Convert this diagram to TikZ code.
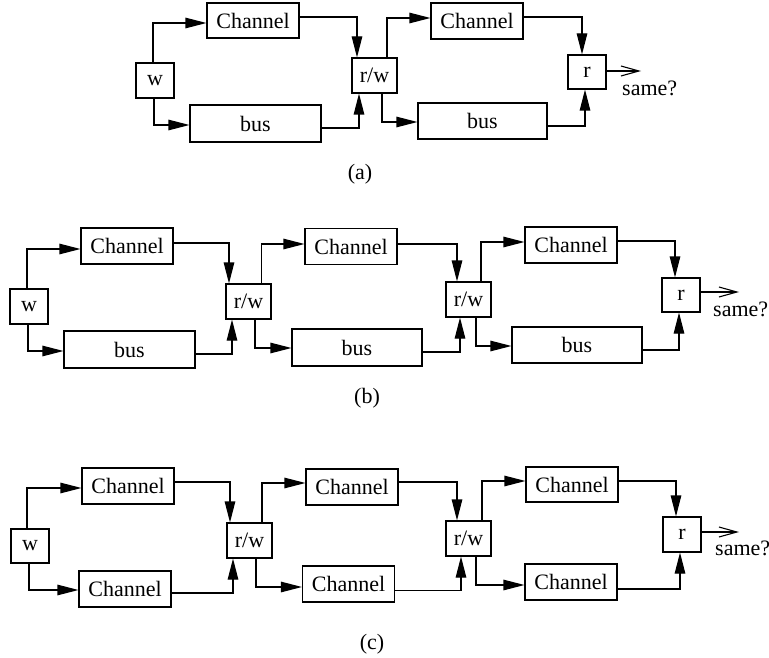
\documentclass[tikz,border=0pt]{standalone}
\usepackage{fontspec}
\setmainfont{Liberation Serif}
\usetikzlibrary{arrows.meta,calc}
\begin{document}
\begin{tikzpicture}[x=1pt,y=-1pt,
  box/.style args={#1x#2}{draw, line width=1.1pt, minimum width=#1pt, minimum height=#2pt, inner sep=0pt, font=\fontsize{22}{26}\selectfont},
  conn/.style={line width=1.1pt, -{Triangle[length=21pt,width=10.5pt]}},
  outarr/.style={line width=1.1pt, -{Straight Barb[length=18pt,width=10pt]}},
  lbl/.style={font=\fontsize{22}{26}\selectfont, inner sep=0pt}]
\useasboundingbox (0,0) rectangle (769,658);

% ---------- (a) ----------
\node[box=38x35] (wA) at (155,80.5) {w};
\node[box=92x35] (chA1) at (253,20.5) {Channel};
\node[box=131x37] (busA1) at (255.5,123.5) {bus};
\node[box=45x35] (rwA) at (374.5,75.5) {r/w};
\node[box=92x36] (chA2) at (477,21) {Channel};
\node[box=129x36] (busA2) at (482.5,121) {bus};
\node[box=38x34] (rA) at (587,72) {r};
\coordinate (oA) at (641,71);
\node[lbl, anchor=base west] (sA) at (622,96) {same?};
\node[lbl] (labA) at (360,174) {(a)};

\draw[conn] ($(wA.north)+(-2,0)$) |- ($(chA1.west)+(0,2.5)$);
\draw[conn] ($(chA1.east)+(0,-3.5)$) -| ($(rwA.north)+(-17.5,0)$);
\draw[conn] ($(wA.south)+(-1,0)$) |- ($(busA1.west)+(0,1.5)$);
\draw[conn] ($(busA1.east)+(0,4.5)$) -| ($(rwA.south)+(-15.5,0)$);
\draw[conn] ($(rwA.north)+(12.5,0)$) |- ($(chA2.west)+(0,-3)$);
\draw[conn] ($(rwA.south)+(7.5,0)$) |- ($(busA2.west)+(0,1)$);
\draw[conn] ($(chA2.east)+(0,-4)$) -| ($(rA.north)+(-5,0)$);
\draw[conn] ($(busA2.east)+(0,5)$) -| ($(rA.south)+(-2,0)$);
\draw[outarr] ($(rA.east)+(0,-1)$) -- (oA);

% ---------- (b) ----------
\node[box=38x35] (wB) at (29,306.5) {w};
\node[box=92x36] (chB1) at (127,246) {Channel};
\node[box=131x37] (busB1) at (129.5,349.5) {bus};
\node[box=45x35] (rwB1) at (248.5,301.5) {r/w};
\node[box=92x36] (chB2) at (351,246.5) {Channel};
\node[box=130x37] (busB2) at (357,347.5) {bus};
\node[box=45x35] (rwB2) at (468.5,299.5) {r/w};
\node[box=92x36] (chB3) at (571,245) {Channel};
\node[box=130x36] (busB3) at (577,345) {bus};
\node[box=38x34] (rB) at (681,295) {r};
\coordinate (oB) at (739,292);
\node[lbl, anchor=base west] (sB) at (713,316) {same?};
\node[lbl] (labB) at (367,398) {(b)};

\draw[conn] ($(wB.north)+(-2,0)$) |- ($(chB1.west)+(0,3)$);
\draw[conn] ($(chB1.east)+(0,-3)$) -| ($(rwB1.north)+(-19.5,0)$);
\draw[conn] ($(wB.south)+(-1,0)$) |- ($(busB1.west)+(0,1.5)$);
\draw[conn] ($(busB1.east)+(0,4.5)$) -| ($(rwB1.south)+(-16.5,0)$);
\draw[conn] ($(rwB1.north)+(13,0)$) |- ($(chB2.west)+(0,-2.5)$);
\draw[conn] ($(rwB1.south)+(6.5,0)$) |- ($(busB2.west)+(0,0.5)$);
\draw[conn] ($(chB2.east)+(0,-2.5)$) -| ($(rwB2.north)+(-11.5,0)$);
\draw[conn] ($(busB2.east)+(0,4.5)$) -| ($(rwB2.south)+(-8.5,0)$);
\draw[conn] ($(rwB2.north)+(12.5,0)$) |- ($(chB3.west)+(0,-3)$);
\draw[conn] ($(rwB2.south)+(7.5,0)$) |- ($(busB3.west)+(0,1)$);
\draw[conn] ($(chB3.east)+(0,-4)$) -| ($(rB.north)+(-6,0)$);
\draw[conn] ($(busB3.east)+(0,5)$) -| ($(rB.south)+(-2,0)$);
\draw[outarr] ($(rB.east)+(0,-3)$) -- (oB);

% ---------- (c) ----------
\node[box=38x34] (wC) at (30,546) {w};
\node[box=92x36] (chC1) at (128,486) {Channel};
\node[box=92x36] (chC1b) at (125,589) {Channel};
\node[box=45x35] (rwC1) at (249.5,540.5) {r/w};
\node[box=92x36] (chC2) at (352,487) {Channel};
\node[box=92x36] (chC2b) at (348.5,584) {Channel};
\node[box=45x35] (rwC2) at (468.5,538.5) {r/w};
\node[box=92x35] (chC3) at (572,484.5) {Channel};
\node[box=92x36] (chC3b) at (571,582) {Channel};
\node[box=38x35] (rC) at (682,534.5) {r};
\coordinate (oC) at (739,532);
\node[lbl, anchor=base west] (sC) at (715,555) {same?};
\node[lbl] (labC) at (372,644) {(c)};

\draw[conn] ($(wC.north)+(-3,0)$) |- ($(chC1.west)+(0,2)$);
\draw[conn] ($(chC1.east)+(0,-4)$) -| ($(rwC1.north)+(-19.5,0)$);
\draw[conn] ($(wC.south)+(-1,0)$) |- ($(chC1b.west)+(0,1)$);
\draw[conn] ($(chC1b.east)+(0,4)$) -| ($(rwC1.south)+(-16.5,0)$);
\draw[conn] ($(rwC1.north)+(12.5,0)$) |- ($(chC2.west)+(0,-4)$);
\draw[conn] ($(rwC1.south)+(6.5,0)$) |- ($(chC2b.west)+(0,3)$);
\draw[conn] ($(chC2.east)+(0,-5)$) -| ($(rwC2.north)+(-11.5,0)$);
\draw[conn] ($(chC2b.east)+(0,6.5)$) -| ($(rwC2.south)+(-7.5,0)$);
\draw[conn] ($(rwC2.north)+(13.5,0)$) |- ($(chC3.west)+(0,-3.5)$);
\draw[conn] ($(rwC2.south)+(7.5,0)$) |- ($(chC3b.west)+(0,3)$);
\draw[conn] ($(chC3.east)+(0,-3.5)$) -| ($(rC.north)+(-6,0)$);
\draw[conn] ($(chC3b.east)+(0,7)$) -| ($(rC.south)+(-2,0)$);
\draw[outarr] ($(rC.east)+(0,-2.5)$) -- (oC);
\end{tikzpicture}
\end{document}
